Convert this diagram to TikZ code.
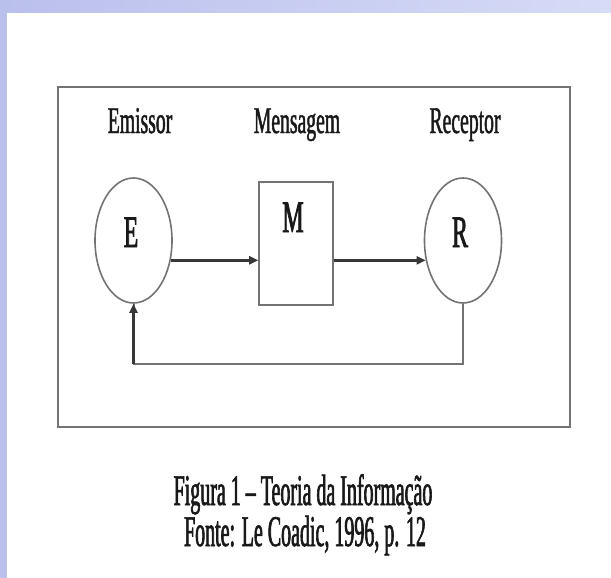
\documentclass[tikz,border=0pt]{standalone}
\usepackage{fontspec}
\setmainfont{Liberation Serif}
\newfontfamily\lblfont[FakeStretch=0.52,FakeBold=1.2]{Liberation Serif}
\newfontfamily\letfont[FakeStretch=0.53,FakeBold=1.6]{Liberation Serif}
\newfontfamily\capfont[FakeStretch=0.456,FakeBold=1.4]{Liberation Serif}
\usetikzlibrary{shapes.geometric,arrows.meta,calc}
\definecolor{bandA}{RGB}{186,192,236}
\definecolor{bandB}{RGB}{214,219,247}
\definecolor{linegray}{RGB}{115,115,115}
\definecolor{arrowgray}{RGB}{55,55,55}
\definecolor{txt}{RGB}{25,25,25}
\tikzset{
  lbl/.style={anchor=base,inner sep=0pt,text=txt,font=\lblfont\fontsize{37.8}{40}\selectfont},
  letter/.style={anchor=base,inner sep=0pt,text=txt,font=\letfont\fontsize{45}{48}\selectfont},
  captxt/.style={anchor=base,inner sep=0pt,text=txt,font=\capfont\fontsize{43.8}{46}\selectfont},
  oval/.style={ellipse,draw=linegray,line width=1.6pt,minimum width=77pt,minimum height=125pt,inner sep=0pt},
  msgbox/.style={rectangle,draw=linegray,line width=1.6pt,minimum width=74pt,minimum height=123pt,inner sep=0pt},
  flow/.style={draw=arrowgray,line width=2.4pt,-{Triangle[length=9pt,width=8pt]}},
  fback/.style={draw=linegray,line width=2pt},
}
\begin{document}
\begin{tikzpicture}[x=1pt,y=-1pt]
\useasboundingbox (0,0) rectangle (611,578);
\fill[white] (0,0) rectangle (611,578);
\shade[left color=bandA,right color=bandB] (0,0) rectangle (611,13);
\fill[bandA] (0,0) rectangle (7,578);
% frame
\draw[draw=linegray,line width=2.6pt] (58,87) rectangle (570,427);
% labels
\node[lbl] (lE) at (140,133) {Emissor};
\node[lbl] (lM) at (297,133) {Mensagem};
\node[lbl] (lR) at (465,133) {Receptor};
% shapes
\node[oval] (E) at (133.5,240.5) {};
\node[msgbox] (M) at (296,243.5) {};
\node[oval] (R) at (463,240.5) {};
\node[letter] (tE) at (131,247) {E};
\node[letter] (tM) at (293,232) {M};
\node[letter] (tR) at (460,247) {R};
% arrows
\draw[flow] (E.-28) -- (E.-28 -| M.west);
\draw[flow] (M.east |- R.208) -- (R.208);
\coordinate (fb) at (0,364);
\draw[fback] (R.south) -- (R.south |- fb) -- (E.south |- fb) -- (E.south);
\draw[flow] (E.south |- fb) -- (E.south);
% caption
\node[captxt] (c1) at (303,505) {Figura 1 – Teoria da Informação};
\node[captxt] (c2) at (305,546) {Fonte: Le Coadic, 1996, p. 12};
\end{tikzpicture}
\end{document}
